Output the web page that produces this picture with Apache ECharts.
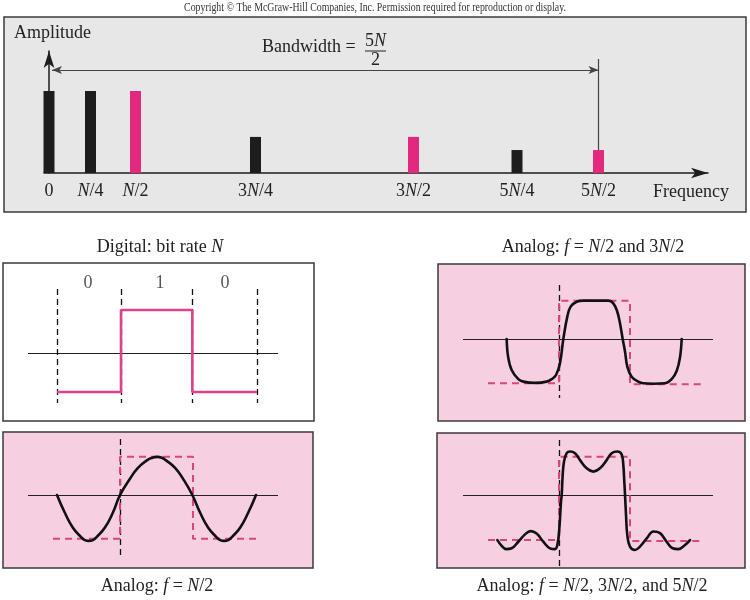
<!DOCTYPE html>
<html><head><meta charset="utf-8">
<script src="https://cdn.jsdelivr.net/npm/echarts@6/dist/echarts.min.js"></script>
<style>html,body{margin:0;padding:0;background:#fff}#c{width:750px;height:600px}</style>
</head><body><div id="c"></div>
<script>
// ---------------- data ----------------
const freqLabels = ['0', '{i|N}/4', '{i|N}/2', '3{i|N}/4', '3{i|N}/2', '5{i|N}/4', '5{i|N}/2'];
const freqPos = [0, 4.15, 8.65, 20.65, 36.45, 46.8, 54.95];        // schematic positions on the frequency axis
const freqAmp = [1, 1, 1, 0.44, 0.44, 0.28, 0.28];
const inAnalog = [false, false, true, false, true, false, true];
const bandwidthEnd = 54.95;   // 5N/2

const bitValues = ['0', '1', '0'];
const bitCenters = [0.465, 1.545, 2.52];

const digitalSignal = [[0, -0.95], [0.96, -0.95], [0.96, 1.05], [2.03, 1.05], [2.03, -0.95], [3, -0.95]];
const digitalEdges = [0, 0.96, 2.03, 3];

const squareA = [[-0.06, -1.07], [0.95, -1.07], [0.95, 0.93], [2.05, 0.93], [2.05, -1.07], [3, -1.07]];
const waveA = [[0, 0], [0.12, -0.44], [0.24, -0.8], [0.36, -1.02], [0.42, -1.1], [0.48, -1.12], [0.54, -1.1], [0.6, -1.02], [0.72, -0.8], [0.84, -0.44], [0.95, 0],
  [1.09, 0.37], [1.22, 0.66], [1.36, 0.85], [1.44, 0.91], [1.51, 0.93], [1.58, 0.91], [1.64, 0.85], [1.78, 0.66], [1.91, 0.37], [2.04, 0],
  [2.16, -0.44], [2.28, -0.8], [2.4, -1.02], [2.46, -1.1], [2.52, -1.12], [2.58, -1.1], [2.64, -1.02], [2.76, -0.8], [2.88, -0.44], [3, 0]];
const edgeA = 0.95;

const squareB = [[0, -1.08], [1, -1.08], [1, 0.935], [2, 0.935], [2, -1.105], [3, -1.105]];
const waveB = [[0.263, 0], [0.283, -0.43], [0.333, -0.756], [0.427, -0.98], [0.498, -1.04], [0.662, -1.07], [0.826, -1.04], [0.897, -0.98],
  [0.958, -0.878], [1.014, -0.59], [1.061, 0], [1.117, 0.545], [1.164, 0.79], [1.249, 0.91], [1.343, 0.935], [1.53, 0.935], [1.695, 0.935],
  [1.765, 0.87], [1.82, 0.67], [1.859, 0.382], [1.897, 0], [1.93, -0.31], [1.962, -0.675], [2.023, -0.92], [2.117, -1.04], [2.188, -1.08],
  [2.329, -1.09], [2.493, -1.08], [2.587, -0.98], [2.657, -0.78], [2.704, -0.45], [2.728, 0]];
const edgeB = 1.0;

const squareC = [[0, -1.1], [1, -1.1], [1, 0.935], [2, 0.935], [2, -1.12], [3, -1.12]];
const waveC = [[0.132, -1.1], [0.193, -1.24], [0.254, -1.32], [0.333, -1.3], [0.427, -1.14], [0.521, -0.96], [0.601, -0.88], [0.685, -0.94],
  [0.779, -1.14], [0.873, -1.3], [0.944, -1.32], [0.977, -1.22], [1.005, -0.81], [1.028, -0.16], [1.038, 0], [1.052, 0.49], [1.07, 0.81],
  [1.108, 1.02], [1.155, 1.06], [1.225, 1.02], [1.296, 0.85], [1.39, 0.65], [1.484, 0.57], [1.577, 0.65], [1.671, 0.85], [1.742, 1.02],
  [1.822, 1.06], [1.883, 0.99], [1.906, 0.73], [1.92, 0.32], [1.93, 0], [1.944, -0.49], [1.962, -0.98], [2.0, -1.26], [2.07, -1.34],
  [2.14, -1.26], [2.235, -1.06], [2.329, -0.89], [2.423, -0.93], [2.516, -1.14], [2.601, -1.3], [2.681, -1.32], [2.775, -1.22], [2.845, -1.1]];
const edgeC = 1.0;

// ---------------- style / layout ----------------
const FONT = '"Liberation Serif","DejaVu Serif",serif';
const PINK = '#e3287f';
const PINK_D = '#d8457f';
const DARK = '#1d1d1d';
const PANEL_PINK = '#f6cfe0';
const UNIT = 41; // px per amplitude unit in small panels

function panel(box, t0, t3, zero, axisPx, edgePx) {
  const sx = (t3 - t0) / 3;
  const tx = p => (p - t0) / sx;
  const ay = p => (zero - p) / UNIT;
  return {
    grid: { left: box[0], top: box[1], width: box[2], height: box[3] },
    xmin: tx(box[0]), xmax: tx(box[0] + box[2]),
    ymin: ay(box[1] + box[3]), ymax: ay(box[1]),
    axis: [tx(axisPx[0]), tx(axisPx[1])],
    edge: [ay(edgePx[0]), ay(edgePx[1])]
  };
}
const P = [
  panel([3, 263, 311, 158], 57, 257, 353, [28, 278], [289, 403]),
  panel([3, 432, 310, 136], 57, 256, 495, [28, 278], [439, 558]),
  panel([438, 264, 307, 157], 488, 701, 339, [463, 713], [285, 398]),
  panel([437, 433, 308, 135], 488, 701, 495, [463, 713], [440, 566])
];

const grids = [{ left: 44, top: 51, width: 664, height: 122 }];
const xAxes = [{
  gridIndex: 0, type: 'value', min: -0.5, max: 65.9,
  axisLine: { show: true, onZero: true, symbol: ['none', 'arrow'], symbolSize: [8, 17], lineStyle: { color: DARK, width: 1.5 } },
  axisTick: { show: false }, splitLine: { show: false },
  axisLabel: {
    show: true, customValues: freqPos, margin: 9, color: '#222', fontFamily: FONT, fontSize: 18,
    formatter: v => { const i = freqPos.findIndex(p => Math.abs(p - v) < 1e-6); return i >= 0 ? freqLabels[i] : ''; },
    rich: { i: { fontStyle: 'italic', fontFamily: FONT, fontSize: 18, color: '#222' } }
  }
}];
const yAxes = [{
  gridIndex: 0, type: 'value', min: 0, max: 122 / 82,
  axisLine: { show: true, onZero: true, symbol: ['none', 'arrow'], symbolSize: [8, 17], lineStyle: { color: DARK, width: 1.5 } },
  axisTick: { show: false }, axisLabel: { show: false }, splitLine: { show: false }
}];

const series = [{
  type: 'bar', xAxisIndex: 0, yAxisIndex: 0, barWidth: 11, z: 3,
  data: freqPos.map((p, i) => ({ value: [p, freqAmp[i]], itemStyle: { color: inAnalog[i] ? PINK : DARK } })),
  markLine: {
    silent: true, animation: false, label: { show: false }, symbol: ['arrow', 'arrow'], symbolSize: [6, 10],
    lineStyle: { color: '#444', width: 1.2, type: 'solid' },
    data: [
      [{ coord: [0.3, 103 / 82] }, { coord: [bandwidthEnd, 103 / 82] }],
      [{ coord: [bandwidthEnd, 114 / 82], symbol: 'none' }, { coord: [bandwidthEnd, freqAmp[6]], symbol: 'none' }]
    ]
  }
}];

const panels = [
  { sq: digitalSignal, wave: null, edges: digitalEdges, digital: true },
  { sq: squareA, wave: waveA, edges: [edgeA], smooth: 0.5 },
  { sq: squareB, wave: waveB, edges: [edgeB], smooth: 0.4 },
  { sq: squareC, wave: waveC, edges: [edgeC], smooth: 0.4 }
];

panels.forEach((pd, k) => {
  const g = P[k], gi = k + 1;
  grids.push(Object.assign({ show: true, backgroundColor: pd.digital ? '#ffffff' : PANEL_PINK, borderColor: '#3a3a3a', borderWidth: 1.5 }, g.grid));
  xAxes.push({ gridIndex: gi, type: 'value', min: g.xmin, max: g.xmax, show: false });
  yAxes.push({ gridIndex: gi, type: 'value', min: g.ymin, max: g.ymax, show: false });
  const ml = [[{ coord: [g.axis[0], 0] }, { coord: [g.axis[1], 0] }]];
  pd.edges.forEach(t => ml.push([{ coord: [t, g.edge[0]], lineStyle: { color: '#111', width: 1.3, type: [6, 4] } }, { coord: [t, g.edge[1]] }]));
  series.push({
    type: 'line', xAxisIndex: gi, yAxisIndex: gi, data: pd.sq, symbol: 'none', z: 3,
    lineStyle: pd.digital ? { color: '#e0408a', width: 2.6 } : { color: PINK_D, width: 2, type: [7, 5] },
    markLine: {
      silent: true, animation: false, label: { show: false }, symbol: ['none', 'none'],
      lineStyle: { color: '#222', width: 1.2, type: 'solid' }, data: ml, z: 2
    }
  });
  if (pd.wave) {
    series.push({
      type: 'line', xAxisIndex: gi, yAxisIndex: gi, data: pd.wave, symbol: 'none', smooth: pd.smooth, z: 4,
      lineStyle: { color: '#111', width: 2.6, join: 'round', cap: 'round' }
    });
  }
  if (pd.digital) {
    series.push({
      type: 'scatter', xAxisIndex: gi, yAxisIndex: gi, symbolSize: 1, itemStyle: { color: 'rgba(0,0,0,0)' },
      data: bitCenters.map((t, i) => ({ value: [t, (353 - 283) / UNIT], name: bitValues[i] })),
      label: { show: true, position: 'inside', formatter: '{b}', fontFamily: FONT, fontSize: 18, color: '#2a2a2a' }
    });
  }
});

function txt(x, y, text, align, size) {
  return {
    type: 'text', x: x, y: y, silent: true,
    style: { text: text, font: (size || 18) + 'px ' + FONT, fill: '#222', align: align || 'center', verticalAlign: 'middle',
      rich: { i: { fontStyle: 'italic', fontSize: size || 18, fontFamily: FONT, fill: '#222' } } }
  };
}

const graphic = [
  { type: 'rect', z: -10, silent: true, shape: { x: 4, y: 17, width: 742, height: 195 }, style: { fill: '#e7e7e7', stroke: '#3c3c3c', lineWidth: 1.5 } },
  { type: 'text', x: 375, y: 8, scaleX: 0.82, silent: true,
    style: { text: 'Copyright © The McGraw-Hill Companies, Inc. Permission required for reproduction or display.', font: '12px ' + FONT, fill: '#333', align: 'center', verticalAlign: 'middle' } },
  txt(14, 33, 'Amplitude', 'left'),
  txt(262, 47, 'Bandwidth =', 'left'),
  txt(375.5, 41, '5{i|N}'),
  { type: 'line', silent: true, shape: { x1: 365, y1: 51, x2: 386, y2: 51 }, style: { stroke: '#222', lineWidth: 1 } },
  txt(375.5, 60, '2'),
  txt(653, 192, 'Frequency', 'left'),
  txt(160, 247, 'Digital: bit rate {i|N}'),
  txt(593, 247, 'Analog: {i|f} = {i|N}/2 and 3{i|N}/2'),
  txt(157, 586, 'Analog: {i|f} = {i|N}/2'),
  txt(592, 586, 'Analog: {i|f} = {i|N}/2, 3{i|N}/2, and 5{i|N}/2')
];

const chart = echarts.init(document.getElementById('c'), null, { renderer: 'canvas' });
chart.setOption({
  animation: false,
  backgroundColor: '#ffffff',
  grid: grids, xAxis: xAxes, yAxis: yAxes, series: series, graphic: graphic
});
</script></body></html>
